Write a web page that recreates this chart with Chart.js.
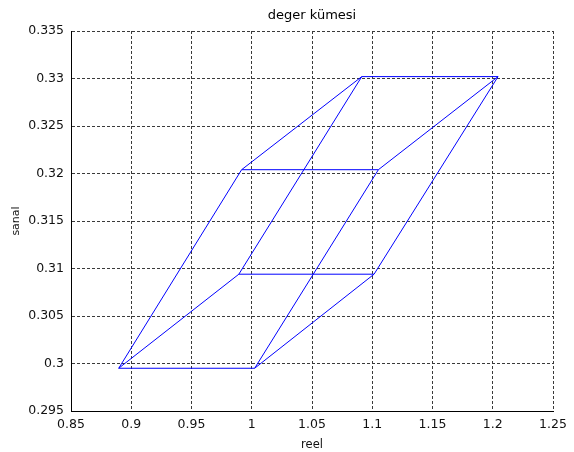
<!DOCTYPE html>
<html><head><meta charset="utf-8">
<script src="https://cdn.jsdelivr.net/npm/chart.js@4/dist/chart.umd.min.js"></script>
<style>html,body{margin:0;padding:0;background:#fff}canvas{display:block}</style>
</head><body>
<canvas id="c" width="574" height="452"></canvas>
<script>
const chartTitle = 'deger kümesi';
const xAxisLabel = 'reel';
const yAxisLabel = 'sanal';
// outline path (null = pen up)
const reel  = [0.8896, 1.0024, 1.1015, 0.9893, 0.8896, 0.9916, 1.1051, 1.0024, null,
               0.9893, 1.0913, 1.2044, 1.1015, null,
               0.9916, 1.0913, null,
               1.1051, 1.2044];
const sanal = [0.2995, 0.2995, 0.3094, 0.3094, 0.2995, 0.3204, 0.3204, 0.2995, null,
               0.3094, 0.3302, 0.3302, 0.3094, null,
               0.3204, 0.3302, null,
               0.3204, 0.3302];
const xTicks = [0.85, 0.9, 0.95, 1, 1.05, 1.1, 1.15, 1.2, 1.25];
const xTickLabels = ['0.85', '0.9', '0.95', '1', '1.05', '1.1', '1.15', '1.2', '1.25'];
const yTicks = [0.295, 0.3, 0.305, 0.31, 0.315, 0.32, 0.325, 0.33, 0.335];
const yTickLabels = ['0.295', '0.3', '0.305', '0.31', '0.315', '0.32', '0.325', '0.33', '0.335'];

const FONT = 'DejaVu Sans';
const points = reel.map((x, i) => ({ x: x, y: sanal[i] }));

new Chart(document.getElementById('c'), {
  type: 'scatter',
  data: { datasets: [{
    data: points,
    showLine: true,
    spanGaps: false,
    borderColor: '#0000ff',
    borderWidth: 1,
    pointRadius: 0,
    tension: 0,
    fill: false
  }]},
  options: {
    responsive: false,
    animation: false,
    layout: { padding: { top: 0, left: 0, right: 21, bottom: 0 } },
    plugins: {
      legend: { display: false },
      tooltip: { enabled: false },
      title: { display: true, fullSize: false, text: chartTitle, color: '#000',
        font: { family: FONT, size: 13, weight: 'normal' },
        padding: { top: 7.4, bottom: 8 } }
    },
    scales: {
      x: {
        type: 'linear', position: 'bottom', min: 0.85, max: 1.25,
        afterBuildTicks: s => { s.ticks = xTicks.map(v => ({ value: v })); },
        afterFit: s => { s.height = 41; },
        ticks: { callback: (v, i) => xTickLabels[i], color: '#111', padding: 6,
          maxRotation: 0, autoSkip: false, font: { family: FONT, size: 12.5 } },
        grid: { color: '#3a3a3a', lineWidth: 1, drawTicks: false },
        border: { display: true, color: '#000', width: 1, dash: [3, 2] },
        title: { display: true, text: xAxisLabel, color: '#111',
          font: { family: FONT, size: 11.5 }, padding: { top: 0, bottom: 0.4 } }
      },
      y: {
        type: 'linear', position: 'left', min: 0.295, max: 0.335,
        afterBuildTicks: s => { s.ticks = yTicks.map(v => ({ value: v })); },
        afterFit: s => { s.width = 71; },
        ticks: { callback: (v, i) => yTickLabels[i], color: '#111', padding: 7,
          autoSkip: false, font: { family: FONT, size: 12.5 } },
        grid: { color: '#3a3a3a', lineWidth: 1, drawTicks: false },
        border: { display: true, color: '#000', width: 1, dash: [3, 2] },
        title: { display: true, text: yAxisLabel, color: '#111',
          font: { family: FONT, size: 11 }, padding: { top: 9.4, bottom: 0 } }
      }
    }
  }
});
</script>
</body></html>
